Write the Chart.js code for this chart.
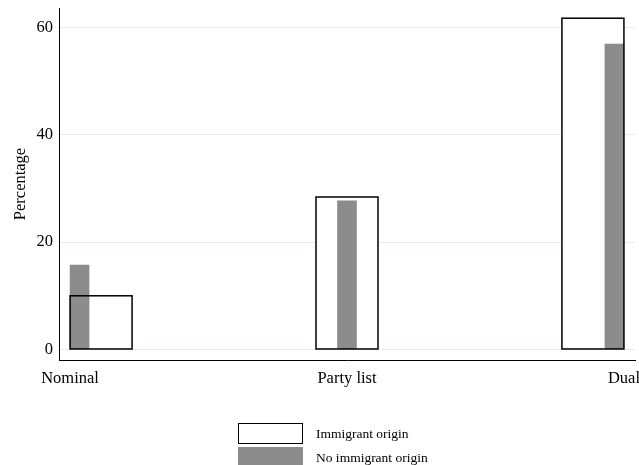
<!DOCTYPE html>
<html lang="en">
  <head>
    <meta charset="utf-8" />
    <title>Percentage by candidacy type</title>
    <style>
      * {
        margin: 0;
        padding: 0;
      }
      body {
        background: #fff;
      }
      .wrap {
        position: relative;
        width: 639px;
        height: 465px;
        overflow: hidden;
        font-family: 'Liberation Serif', 'Times New Roman', serif;
      }
      #myChart {
        position: absolute;
        left: 0;
        top: 0;
      }
      .legend {
        position: absolute;
        left: 238px;
        top: 423px;
      }
      .legend .item {
        display: flex;
        align-items: center;
        height: 21px;
        margin-bottom: 3px;
        font-size: 13.5px;
        color: #000;
      }
      .legend .swatch {
        width: 65px;
        height: 21px;
        box-sizing: border-box;
        margin-right: 13px;
      }
    </style>
  </head>
  <body>
    <div class="wrap">
      <canvas id="myChart" width="639" height="465"></canvas>
      <div class="legend" id="legend"></div>
    </div>
    <script src="https://cdn.jsdelivr.net/npm/chart.js"></script>
    <script>
      // data
      const categories = ['Nominal', 'Party list', 'Dual'];
      const categoryX = [1, 2, 3];
      const immigrantOrigin = [10.0, 28.4, 61.7];
      const noImmigrantOrigin = [15.7, 27.7, 56.9];
      const yTicks = [0, 20, 40, 60];

      // bars start at the first tick, sit centred on the middle one, end at the last one
      const barAlign = [1, 0, -1];
      const serif = "'Liberation Serif', 'Times New Roman', serif";

      const toPoints = (values) => values.map((v, i) => ({ x: categoryX[i], y: v }));

      // the white boxes are filled under the grey bars, their outline goes on top
      const boxOutline = {
        id: 'boxOutline',
        afterDatasetsDraw(chart) {
          const ctx = chart.ctx;
          const meta = chart.getDatasetMeta(0);
          ctx.save();
          ctx.strokeStyle = '#000';
          ctx.lineWidth = 1.5;
          meta.data.forEach((el) => {
            const { x, y, base, width } = el.getProps(['x', 'y', 'base', 'width'], true);
            ctx.strokeRect(x - width / 2, y, width, base - y);
          });
          ctx.restore();
        },
      };

      const data = {
        datasets: [
          {
            label: 'Immigrant origin',
            data: toPoints(immigrantOrigin),
            values: immigrantOrigin,
            backgroundColor: '#ffffff',
            borderWidth: 0,
            barThickness: 62,
            order: 2,
          },
          {
            label: 'No immigrant origin',
            data: toPoints(noImmigrantOrigin),
            values: noImmigrantOrigin,
            backgroundColor: '#8c8c8c',
            borderWidth: 0,
            barThickness: 19,
            order: 1,
          },
        ],
      };

      const config = {
        type: 'bar',
        data,
        options: {
          responsive: false,
          animation: false,
          grouped: false,
          layout: { padding: { top: 8, right: 4, left: 0, bottom: 0 } },
          plugins: {
            legend: { display: false },
            tooltip: { enabled: false },
          },
          scales: {
            x: {
              type: 'linear',
              offset: false,
              min: 0.96,
              max: 3.04,
              afterBuildTicks: (s) => {
                s.ticks = categoryX.map((v) => ({ value: v }));
              },
              afterFit: (s) => {
                s.height = 105;
                s.paddingLeft = 0;
                s.paddingRight = 0;
              },
              grid: { display: false, drawTicks: false },
              border: { display: true, color: '#000', width: 1 },
              ticks: {
                callback: (v, i) => categories[i],
                font: { family: serif, size: 16.5 },
                color: '#000',
                padding: 9,
                maxRotation: 0,
                autoSkip: false,
              },
            },
            y: {
              min: -1.96,
              max: 63.6,
              afterBuildTicks: (s) => {
                s.ticks = yTicks.map((v) => ({ value: v }));
              },
              afterFit: (s) => {
                s.width = 59;
                s.paddingTop = 0;
                s.paddingBottom = 0;
              },
              grid: { color: '#e3eced', drawTicks: false, lineWidth: 1 },
              border: { color: '#000', width: 1 },
              ticks: {
                font: { family: serif, size: 16.5 },
                color: '#000',
                padding: 6,
              },
              title: {
                display: true,
                text: 'Percentage',
                font: { family: serif, size: 16.5 },
                color: '#000',
                padding: { top: 11, bottom: 0 },
              },
            },
          },
        },
        plugins: [boxOutline],
      };

      const myChart = new Chart(document.getElementById('myChart'), config);

      // shift the edge bars so they line up with their tick instead of centring on it
      const xScale = myChart.scales.x;
      const pxPerUnit = xScale.getPixelForValue(2) - xScale.getPixelForValue(1);
      myChart.data.datasets.forEach((ds) => {
        ds.data = ds.values.map((v, i) => ({
          x: categoryX[i] + (barAlign[i] * ds.barThickness) / 2 / pxPerUnit,
          y: v,
        }));
      });
      myChart.update();

      // legend, stacked like the original
      const legend = document.getElementById('legend');
      myChart.data.datasets.forEach((ds) => {
        const item = document.createElement('div');
        item.className = 'item';
        const sw = document.createElement('span');
        sw.className = 'swatch';
        sw.style.background = ds.backgroundColor;
        if (ds.order === 2) sw.style.border = '1px solid #000';
        const txt = document.createElement('span');
        txt.textContent = ds.label;
        item.appendChild(sw);
        item.appendChild(txt);
        legend.appendChild(item);
      });
    </script>
  </body>
</html>
